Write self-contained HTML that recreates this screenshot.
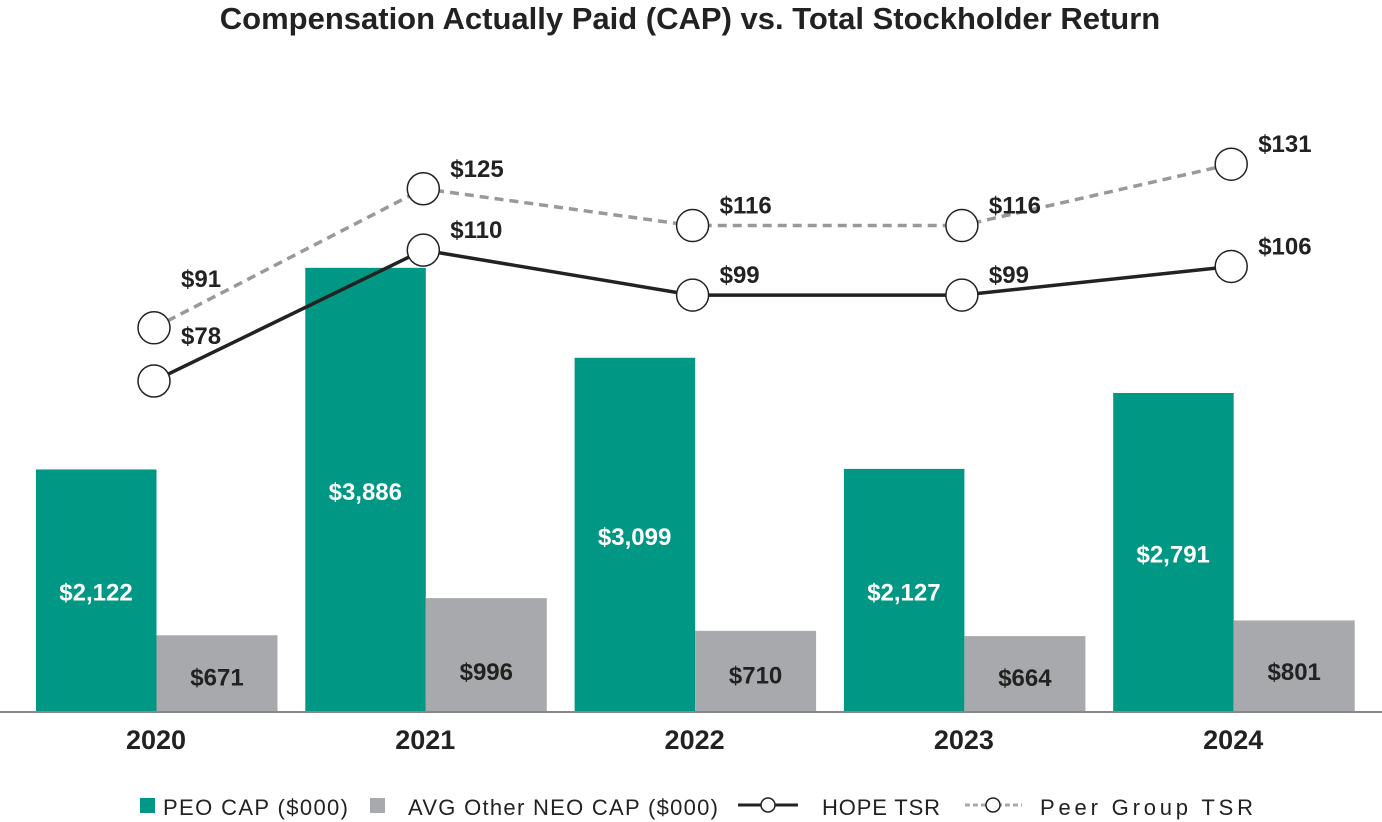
<!DOCTYPE html>
<html><head><meta charset="utf-8"><style>
body{margin:0;background:#fff;}
svg{display:block;font-family:"Liberation Sans",sans-serif;}
</style></head><body>
<svg id="chart" width="1382" height="822">
<text x="690" y="29" text-anchor="middle" font-size="31" font-weight="bold" fill="#222">Compensation Actually Paid (CAP) vs. Total Stockholder Return</text>
<g id="bars"></g>
<line x1="0" x2="1382" y1="712" y2="712" stroke="#888" stroke-width="2"/>
<g id="lines"></g>
<g font-size="22" fill="#222">
<rect x="140" y="798" width="15" height="15" fill="#009885"/>
<text x="163" y="815" textLength="185">PEO CAP ($000)</text>
<rect x="370" y="798" width="15" height="15" fill="#a7a9ac"/>
<text x="408" y="815" textLength="310">AVG Other NEO CAP ($000)</text>
<line x1="738" x2="798" y1="805" y2="805" stroke="#222" stroke-width="3"/>
<circle cx="768" cy="805" r="7" fill="#fff" stroke="#222" stroke-width="1.5"/>
<text x="822" y="815" textLength="118">HOPE TSR</text>
<line x1="965" x2="1022" y1="805" y2="805" stroke="#a7a9ac" stroke-width="3" stroke-dasharray="5,3"/>
<circle cx="993" cy="805" r="7" fill="#fff" stroke="#222" stroke-width="1.5"/>
<text x="1040" y="815" textLength="213">Peer Group TSR</text>
</g>
</svg>
<script>
const years=["2020","2021","2022","2023","2024"];
const peoCap=[2122,3886,3099,2127,2791];
const neoCap=[671,996,710,664,801];
const hopeTsr=[78,110,99,99,106];
const peerTsr=[91,125,116,116,131];
const NS="http://www.w3.org/2000/svg";
const base=712;
function xGroup(i){return 36+i*269.3;}
function yCap(v){return base-v*0.1143;}
function yTsr(v){return 700-v*4.09;}
function fmt(v){return "$"+v.toLocaleString("en-US");}
function mk(t,a,p){const e=document.createElementNS(NS,t);for(const k in a)e.setAttribute(k,a[k]);p.appendChild(e);return e;}
const bars=document.getElementById("bars"),lines=document.getElementById("lines");
years.forEach((y,i)=>{
  const x=xGroup(i);
  const r1=mk("rect",{x:x,y:yCap(peoCap[i]),width:120.5,height:base-yCap(peoCap[i]),fill:"#009885"},bars);
  
  
  const r2=mk("rect",{x:x+120.5,y:yCap(neoCap[i]),width:121,height:base-yCap(neoCap[i]),fill:"#a7a9ac"},bars);
  
  
  const t1=mk("text",{x:x+60,y:(yCap(peoCap[i])+base)/2+10,"text-anchor":"middle","font-size":"24","font-weight":"bold",fill:"#fff"},bars);
  t1.textContent=fmt(peoCap[i]);
  
  
  const t2=mk("text",{x:x+181,y:Math.max((yCap(neoCap[i])+base)/2+12,668+12),"text-anchor":"middle","font-size":"24","font-weight":"bold",fill:"#222"},bars);
  t2.textContent=fmt(neoCap[i]);
  
  
  const t3=mk("text",{x:x+120,y:749,"text-anchor":"middle","font-size":"27","font-weight":"bold",fill:"#222"},bars);
  t3.textContent=y;
  
  
});
function cx(i){return xGroup(i)+118;}
function series(vals,name,stroke,dash){
  const pts=vals.map((v,i)=>cx(i)+","+yTsr(v)).join(" ");
  const pl=mk("polyline",{points:pts,fill:"none",stroke:stroke,"stroke-width":"3.5"},lines);
  if(dash)pl.setAttribute("stroke-dasharray",dash);
  
  
  vals.forEach((v,i)=>{
    const c=mk("circle",{cx:cx(i),cy:yTsr(v),r:16,fill:"#fff",stroke:"#222","stroke-width":"1.5"},lines);
    
    
    let ly=yTsr(v)-12;
    if(i===0) ly=name==="hope"?yTsr(v)-37:yTsr(v)-41;
    const t=mk("text",{x:cx(i)+27,y:ly,"font-size":"24","font-weight":"bold",fill:"#222"},lines);
    t.textContent="$"+v;
    
    
  });
}
series(peerTsr,"peer","#999","9,6");
series(hopeTsr,"hope","#222",null);
</script>
</body></html>
